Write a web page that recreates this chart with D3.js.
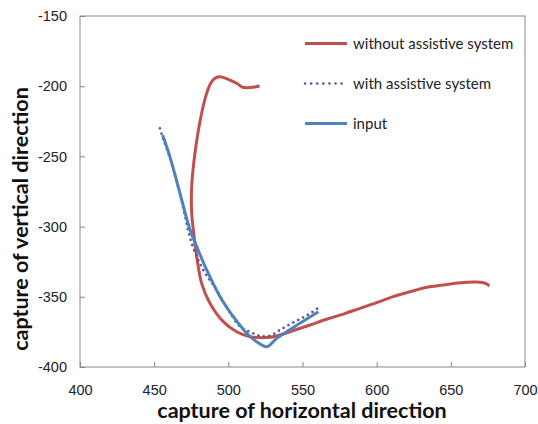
<!DOCTYPE html>
<html>
<head>
<meta charset="utf-8">
<script src="https://cdn.jsdelivr.net/npm/d3@7"></script>
<style>
    body { margin: 0; background: #fff; }
    svg { font-family: Lato, "Open Sans", sans-serif; }
    .axis text { font-size: 14.5px; fill: #222; }
    .axis path, .axis line { stroke: #888; }
    .title { font-size: 21.5px; font-weight: bold; fill: #111; }
    .legend text { font-size: 15px; fill: #222; }
</style>
</head>
<body>
<div id="field"></div>
<script>

// values: [horizontal, vertical]

const withoutSystem = [
    [521.1, -199.9], [516.6, -200.8], [512.4, -201.1], [509.0, -200.4],
    [505.6, -197.9], [501.1, -195.6], [496.4, -193.7], [493.9, -193.2],
    [491.0, -194.4], [488.1, -197.9], [485.4, -205.1], [482.0, -219.3],
    [477.5, -247.8], [475.3, -271.6], [475.3, -290.5], [476.4, -302.4],
    [478.7, -321.4], [482.0, -340.4], [487.6, -354.6], [496.6, -367.7],
    [505.6, -374.9], [514.6, -378.4], [528.1, -378.8], [532.6, -377.8],
    [543.8, -374.1], [555.1, -370.1], [566.3, -366.0], [577.5, -362.3],
    [588.8, -358.2], [600.0, -354.2], [611.2, -349.9], [622.5, -346.4],
    [633.7, -343.2], [644.9, -341.6], [656.2, -340.0], [667.4, -339.5],
    [671.9, -340.0], [675.3, -341.6], [674.6, -342.3]
];

const withSystem = [
    [453.9, -230.0], [455.9, -236.9], [460.6, -251.1], [467.4, -276.8],
    [475.3, -311.9], [483.1, -330.9], [492.2, -345.2], [500.0, -359.4],
    [507.9, -371.3], [514.6, -374.9], [521.4, -377.9], [528.1, -377.6],
    [534.8, -373.6], [542.7, -368.9], [550.5, -364.6], [555.1, -361.8],
    [562.3, -356.6]
];

const input = [
    [455.7, -234.8], [460.6, -250.2], [467.4, -276.3], [474.2, -302.4],
    [478.7, -314.3], [485.4, -330.9], [494.4, -349.9], [503.4, -364.2],
    [512.4, -376.0], [519.1, -382.0], [525.9, -385.5], [532.6, -379.6],
    [539.3, -374.9], [548.3, -368.9], [560.7, -360.6]
];

const xTicks = [400, 450, 500, 550, 600, 650, 700];
const yTicks = [-150, -200, -250, -300, -350, -400];

const seriesNames = ["without assistive system", "with assistive system", "input"];
const seriesColors = ["#c0504d", "#5e5796", "#4f81bd"];

// sizes

const width = 538;
const height = 424;
const plotLeft = 80;
const plotRight = 525;
const plotTop = 16;
const plotBottom = 367;

const xScale = d3.scaleLinear()
    .domain([400, 700])
    .range([plotLeft, plotRight]);

const yScale = d3.scaleLinear()
    .domain([-400, -150])
    .range([plotBottom, plotTop]);

const chart = d3.select("#field")
    .append("svg")
    .attr("width", width)
    .attr("height", height);

// frame

chart.append("rect")
    .attr("x", plotLeft)
    .attr("y", plotTop)
    .attr("width", plotRight - plotLeft)
    .attr("height", plotBottom - plotTop)
    .attr("fill", "none")
    .attr("stroke", "#888")
    .attr("stroke-width", 1);

// axes, ticks point inwards

const xAxis = d3.axisBottom(xScale)
    .tickValues(xTicks)
    .tickSize(-5)
    .tickPadding(18)
    .tickFormat(function(d) { return String(d); });

chart.append("g")
    .attr("class", "x axis")
    .attr("transform", "translate(0," + plotBottom + ")")
    .call(xAxis)
    .select(".domain").remove();

const yAxis = d3.axisLeft(yScale)
    .tickValues(yTicks)
    .tickSize(-5)
    .tickPadding(13)
    .tickFormat(function(d) { return String(d); });

chart.append("g")
    .attr("class", "y axis")
    .attr("transform", "translate(" + plotLeft + ",0)")
    .call(yAxis)
    .select(".domain").remove();

// axis titles

chart.append("text")
    .attr("class", "title")
    .attr("x", 302)
    .attr("y", 418)
    .attr("text-anchor", "middle")
    .text("capture of horizontal direction");

chart.append("text")
    .attr("class", "title")
    .attr("transform", "translate(28,219) rotate(-90)")
    .attr("text-anchor", "middle")
    .text("capture of vertical direction");

// lines

const line = d3.line()
    .x(function(d) { return xScale(d[0]); })
    .y(function(d) { return yScale(d[1]); })
    .curve(d3.curveCatmullRom);

chart.append("path")
    .datum(withoutSystem)
    .attr("d", line)
    .attr("fill", "none")
    .attr("stroke", seriesColors[0])
    .attr("stroke-width", 3)
    .attr("stroke-linejoin", "round");

chart.append("path")
    .datum(withSystem)
    .attr("d", line)
    .attr("fill", "none")
    .attr("stroke", seriesColors[1])
    .attr("stroke-width", 2.6)
    .attr("stroke-linecap", "round")
    .attr("stroke-dasharray", "0.1,5.4");

chart.append("path")
    .datum(input)
    .attr("d", line)
    .attr("fill", "none")
    .attr("stroke", seriesColors[2])
    .attr("stroke-width", 3)
    .attr("stroke-linejoin", "round");

// legend

const legend = chart.append("g")
    .attr("class", "legend");

const legendItems = legend.selectAll("g")
    .data(seriesNames)
    .enter().append("g")
    .attr("transform", function(d, i) { return "translate(305," + (43.5 + i * 40) + ")"; });

legendItems.append("line")
    .attr("x1", 0)
    .attr("x2", 42)
    .attr("stroke", function(d, i) { return seriesColors[i]; })
    .attr("stroke-width", function(d, i) { return i === 1 ? 2.6 : 3; })
    .attr("stroke-linecap", function(d, i) { return i === 1 ? "round" : "butt"; })
    .attr("stroke-dasharray", function(d, i) { return i === 1 ? "0.1,6" : null; });

legendItems.append("text")
    .attr("x", 48)
    .attr("dy", "0.35em")
    .text(function(d) { return d; });

</script>
</body>
</html>
